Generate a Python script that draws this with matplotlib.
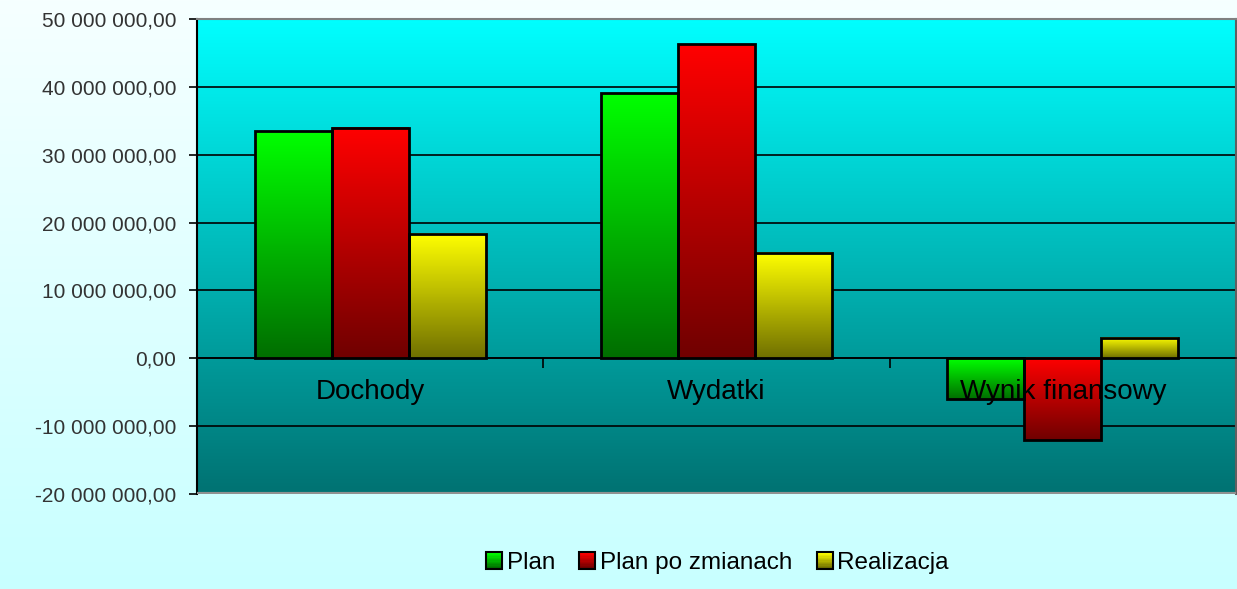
import numpy as np
import matplotlib
matplotlib.use("Agg")
import matplotlib.pyplot as plt
from matplotlib.colors import LinearSegmentedColormap
from matplotlib.ticker import FuncFormatter
from matplotlib.patches import Patch, Rectangle
from matplotlib.legend_handler import HandlerBase

plt.rcParams['font.family'] = ['Liberation Sans', 'DejaVu Sans']

categories = ['Dochody', 'Wydatki', 'Wynik finansowy']
series = ['Plan', 'Plan po zmianach', 'Realizacja']
plan = [33.45e6, 39.05e6, -6.0e6]
plan_po_zmianach = [33.9e6, 46.25e6, -12.1e6]
realizacja = [18.3e6, 15.5e6, 2.95e6]
values = [plan, plan_po_zmianach, realizacja]

top_colors = ['#00ff00', '#ff0000', '#ffff00']
bottom_colors = ['#006e00', '#700000', '#707000']


def fmt(v, pos):
    s = f"{abs(v):,.2f}".replace(',', ' ').replace('.', ',')
    return ('-' if v < 0 else '') + s


class GradientHandler(HandlerBase):
    def __init__(self, cmap):
        super().__init__()
        self.cmap = cmap

    def create_artists(self, legend, orig_handle, xdescent, ydescent, width, height,
                       fontsize, trans):
        n = 12
        artists = []
        for k in range(n):
            y = -ydescent + height * (n - 1 - k) / n
            artists.append(Rectangle((-xdescent, y), width, height / n + 0.1,
                                     facecolor=self.cmap(k / (n - 1)), edgecolor='none',
                                     transform=trans))
        artists.append(Rectangle((-xdescent, -ydescent), width, height, facecolor='none',
                                 edgecolor='black', linewidth=1.5, transform=trans))
        return artists


fig = plt.figure(figsize=(12.37, 5.89), dpi=100)

# figure background gradient
bg = fig.add_axes([0, 0, 1, 1], zorder=-10)
bg.imshow(np.linspace(0, 1, 256).reshape(-1, 1), aspect='auto', extent=[0, 1, 0, 1],
          cmap=LinearSegmentedColormap.from_list('fbg', ['#f6ffff', '#c8ffff']))
bg.set_axis_off()

ax = fig.add_axes([197 / 1237, 1 - 494 / 589, 1039 / 1237, 475 / 589])
ax.set_facecolor('none')

ymin, ymax = -20e6, 50e6
xmin, xmax = -0.5, 2.5

# plot area gradient
ax.imshow(np.linspace(0, 1, 256).reshape(-1, 1), aspect='auto',
          extent=[xmin, xmax, ymin, ymax], zorder=0,
          cmap=LinearSegmentedColormap.from_list('abg', ['#00ffff', '#007272']))

ax.set_yticks(np.arange(-20e6, 50e6 + 1, 10e6))
ax.yaxis.grid(True, color='black', linewidth=1.2, zorder=1)
ax.set_axisbelow(True)

width = 1 / 4.5
x = np.arange(len(categories))
cmaps = []
for i, vals in enumerate(values):
    pos = x + (i - 1) * width
    cmap = LinearSegmentedColormap.from_list(f'b{i}', [top_colors[i], bottom_colors[i]])
    cmaps.append(cmap)
    bars = ax.bar(pos, vals, width, facecolor='none', edgecolor='black', linewidth=2, zorder=4)
    for b in bars:
        x0, y0 = b.get_x(), b.get_y()
        w, h = b.get_width(), b.get_height()
        lo, hi = min(y0, y0 + h), max(y0, y0 + h)
        ax.imshow(np.linspace(0, 1, 128).reshape(-1, 1), aspect='auto', cmap=cmap,
                  extent=[x0, x0 + w, lo, hi], zorder=3)

ax.set_xlim(xmin, xmax)
ax.set_ylim(ymin, ymax)

ax.yaxis.set_major_formatter(FuncFormatter(fmt))
ax.tick_params(axis='y', direction='out', length=6, width=1.2, labelsize=15,
               labelcolor='#333333', pad=9)

ax.spines['bottom'].set_position(('data', 0))
ax.spines['bottom'].set_linewidth(1.2)
ax.spines['left'].set_linewidth(1.5)
ax.spines['top'].set_color('#808080')
ax.spines['right'].set_color('#606060')
ax.spines['top'].set_linewidth(1.5)
ax.spines['right'].set_linewidth(1.5)

ax.set_xticks([0.5, 1.5, 2.5])
ax.set_xticklabels([])
ax.tick_params(axis='x', which='major', direction='out', length=7, width=1.2)

# category labels drawn above the bars
for xi, name in zip(x, categories):
    ax.text(xi, -5.0e6, name, ha='center', va='center', fontsize=20, color='black', zorder=6)

# bottom edge of plot area
ax.axhline(ymin, color='#909090', linewidth=3, zorder=5)

handles = [Patch(facecolor=top_colors[i], label=series[i]) for i in range(3)]
fig.legend(handles=handles, loc='center', bbox_to_anchor=(0.58, 1 - 563 / 589),
           ncol=3, frameon=False, fontsize=17.5, handlelength=0.65, handleheight=0.65,
           handletextpad=0.2, columnspacing=1.0,
           handler_map={h: GradientHandler(c) for h, c in zip(handles, cmaps)})

fig.savefig('out.png', dpi=100)
